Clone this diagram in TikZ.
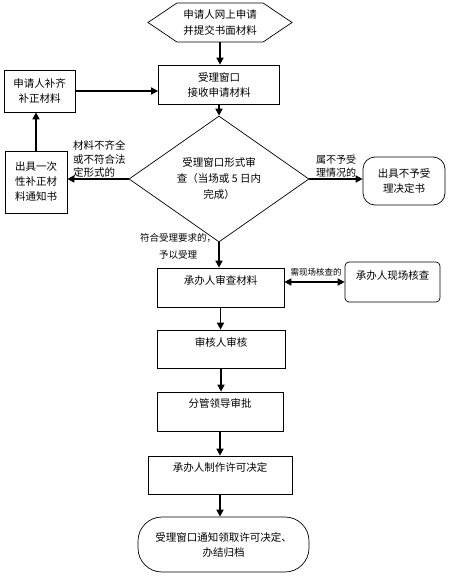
\documentclass[tikz,border=0pt]{standalone}
\usepackage{fontspec}
\setmainfont{Noto Sans CJK SC}
\usetikzlibrary{arrows.meta, shapes.geometric, shapes.symbols}
\tikzset{
    procbox/.style={rectangle, draw=black, line width=0.7pt, align=center, inner sep=0pt, font=\fontsize{10.5}{15}\selectfont},
    topbox/.style={procbox, text height=16pt, text depth=23pt},
    startbox/.style={signal, signal to=east and west, signal pointer angle=68, draw=black, line width=0.7pt, align=center, inner sep=0pt, font=\fontsize{10.5}{16}\selectfont},
    decision/.style={diamond, draw=black, line width=0.7pt, align=center, inner sep=0pt, font=\fontsize{10.5}{16}\selectfont},
    endbox/.style={procbox, rounded corners=24pt},
    lbl/.style={inner sep=0pt, align=left},
    arrow/.style={line width=1.6pt, -{Triangle[length=7pt, width=7pt]}},
    dblarrow/.style={line width=1.6pt, {Triangle[length=7pt, width=7pt]}-{Triangle[length=7pt, width=7pt]}}
}
\begin{document}
\begin{tikzpicture}[x=1pt, y=-1pt]
    \useasboundingbox (0,0) rectangle (449,578);

    % Main column
    \node[startbox, minimum width=144pt, minimum height=39pt] (apply) at (220,22.5) {申请人网上申请\\并提交书面材料};
    \node[procbox, minimum width=121pt, minimum height=39pt] (accept) at (219,84.5) {受理窗口\\接收申请材料};
    \node[decision, minimum width=180pt, minimum height=100pt] (check) at (219,179) {受理窗口形式审\\查（当场或 5 日内\\完成）};
    \node[topbox, minimum width=127pt] (review) at (220.5,287.5) {承办人审查材料};
    \node[topbox, minimum width=128pt, text depth=22pt] (audit) at (221,349) {审核人审核};
    \node[topbox, minimum width=126pt, text height=15pt, text depth=24pt] (approve) at (220,411.5) {分管领导审批};
    \node[topbox, minimum width=144pt, text height=15pt, text depth=23pt] (decide) at (220,475) {承办人制作许可决定};
    \node[endbox, minimum width=171pt, minimum height=55pt] (finish) at (223.5,544.5) {受理窗口通知领取许可决定、\\办结归档};

    % Side boxes
    \node[procbox, minimum width=71pt, minimum height=42pt] (supply) at (39.5,91) {申请人补齐\\补正材料};
    \node[procbox, minimum width=62pt, minimum height=62pt] (notice) at (36,182) {出具一次\\性补正材\\料通知书};
    \node[procbox, rounded corners=12pt, minimum width=82pt, minimum height=48pt] (reject) at (404,181) {出具不予受\\理决定书};
    \node[topbox, rounded corners=4pt, minimum width=95pt, text height=17pt, text depth=23pt] (site) at (392.5,282) {承办人现场核查};

    % Connector labels
    \node[lbl, anchor=west, font=\fontsize{10.5}{13.5}\selectfont] (lackLbl) at (73,159) {材料不齐全\\或不符合法\\定形式的};
    \node[lbl, anchor=west, font=\fontsize{10}{12.5}\selectfont] (refuseLbl) at (316,166) {属不予受\\理情况的};
    \node[lbl, align=center, font=\fontsize{9.5}{17}\selectfont] (okLbl) at (178,246.5) {符合受理要求的，\\予以受理};
    \node[lbl, font=\fontsize{8.5}{10}\selectfont] (siteLbl) at (316,272) {需现场核查的};

    % Arrows
    \draw[arrow] (apply.south) -- (apply.south |- accept.north);
    \draw[arrow] (accept.south) -- (check.north);
    \draw[arrow] (check.south) -- (check.south |- review.north);
    \draw[arrow] (review.south) -- (review.south |- audit.north);
    \draw[arrow] (audit.south) -- (audit.south |- approve.north);
    \draw[arrow] (approve.south) -- (approve.south |- decide.north);
    \draw[arrow] (decide.south) -- (decide.south |- finish.north);
    \draw[arrow] (check.west) -- (check.west -| notice.east);
    \draw[arrow] (check.east) -- (check.east -| reject.west);
    \draw[arrow] (notice.north) -- (notice.north |- supply.south);
    \draw[arrow] (supply.east) -- (supply.east -| accept.west);
    \draw[dblarrow] (site.west -| review.east) -- (site.west);
\end{tikzpicture}
\end{document}
